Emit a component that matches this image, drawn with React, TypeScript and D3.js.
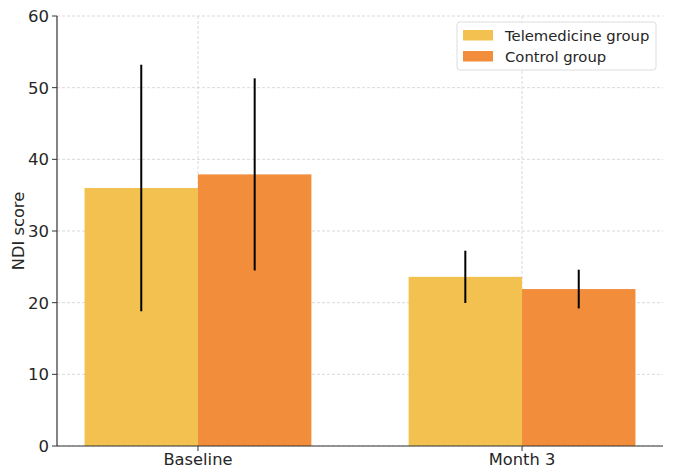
import React from 'react';
import * as d3 from 'd3';

// NDI score by visit, mean with SD whiskers
const timepoints = ['Baseline', 'Month 3'];
const groups = ['Telemedicine group', 'Control group'];
const telemedicineMean = [36.0, 23.6];
const telemedicineSd = [17.2, 3.65];
const controlMean = [37.9, 21.9];
const controlSd = [13.4, 2.7];
const yTicks = [0, 10, 20, 30, 40, 50, 60];

const colors = ['#f2c14f', '#f28d3c'];

const W = 674;
const H = 474;
const margin = { top: 16, right: 11, bottom: 28, left: 57 };
const barWidth = 0.35;

const App = () => {
  const innerW = W - margin.left - margin.right;
  const innerH = H - margin.top - margin.bottom;

  const x = d3.scaleLinear().domain([-0.435, 1.435]).range([0, innerW]);
  const y = d3.scaleLinear().domain([0, 60]).range([innerH, 0]);

  const series = [
    { name: groups[0], mean: telemedicineMean, sd: telemedicineSd, offset: -barWidth / 2, color: colors[0] },
    { name: groups[1], mean: controlMean, sd: controlSd, offset: barWidth / 2, color: colors[1] },
  ];

  const font = 'DejaVu Sans, sans-serif';
  const textColor = '#262626';
  const gridColor = '#d9d9d9';

  return (
    <svg width={W} height={H} style={{ position: 'absolute', left: 0, top: 0, background: '#fff' }}>
      <g transform={`translate(${margin.left},${margin.top})`}>
        {/* grid */}
        {yTicks.map((t) => (
          <line key={`gy${t}`} x1={0} x2={innerW} y1={y(t)} y2={y(t)} stroke={gridColor} strokeWidth={1} strokeDasharray="3,2" />
        ))}
        {timepoints.map((_, i) => (
          <line key={`gx${i}`} x1={x(i)} x2={x(i)} y1={0} y2={innerH} stroke={gridColor} strokeWidth={1} strokeDasharray="3,2" />
        ))}

        {/* bars */}
        {series.map((s) =>
          s.mean.map((m, i) => (
            <rect
              key={`${s.name}${i}`}
              x={x(i + s.offset - barWidth / 2)}
              width={x(barWidth) - x(0)}
              y={y(m)}
              height={innerH - y(m)}
              fill={s.color}
            />
          ))
        )}

        {/* error bars */}
        {series.map((s) =>
          s.mean.map((m, i) => (
            <line
              key={`e${s.name}${i}`}
              x1={x(i + s.offset)}
              x2={x(i + s.offset)}
              y1={y(m + s.sd[i])}
              y2={y(m - s.sd[i])}
              stroke="#000"
              strokeWidth={2}
            />
          ))
        )}

        {/* axes */}
        <line x1={0} x2={0} y1={0} y2={innerH} stroke="#333" strokeWidth={1.2} />
        <line x1={0} x2={innerW} y1={innerH} y2={innerH} stroke="#333" strokeWidth={1.2} />
        {yTicks.map((t) => (
          <g key={`ty${t}`} transform={`translate(0,${y(t)})`}>
            <line x1={-5} x2={0} stroke="#333" strokeWidth={1} />
            <text x={-8} dy="0.36em" textAnchor="end" fontFamily={font} fontSize={16.5} fill={textColor}>
              {t}
            </text>
          </g>
        ))}
        {timepoints.map((c, i) => (
          <g key={`tx${i}`} transform={`translate(${x(i)},${innerH})`}>
            <line y1={0} y2={5} stroke="#333" strokeWidth={1} />
            <text y={19} textAnchor="middle" fontFamily={font} fontSize={16.3} fill={textColor}>
              {c}
            </text>
          </g>
        ))}
        <text
          transform={`translate(${18 - margin.left},${innerH / 2}) rotate(-90)`}
          textAnchor="middle"
          dy="0.36em"
          fontFamily={font}
          fontSize={16.3}
          fill={textColor}
        >
          NDI score
        </text>

        {/* legend */}
        <g transform={`translate(${457 - margin.left},${22 - margin.top})`}>
          <rect x={0} y={0} width={199} height={48} rx={3} fill="#fff" fillOpacity={0.85} stroke="#ddd" strokeWidth={1} />
          {series.map((s, i) => (
            <g key={`lg${i}`} transform={`translate(6,${8 + i * 21})`}>
              <rect x={0} y={0} width={30} height={10.5} fill={s.color} />
              <text x={42} y={5.5} dy="0.36em" fontFamily={font} fontSize={14.8} fill={textColor}>
                {s.name}
              </text>
            </g>
          ))}
        </g>
      </g>
    </svg>
  );
};

export default App;
